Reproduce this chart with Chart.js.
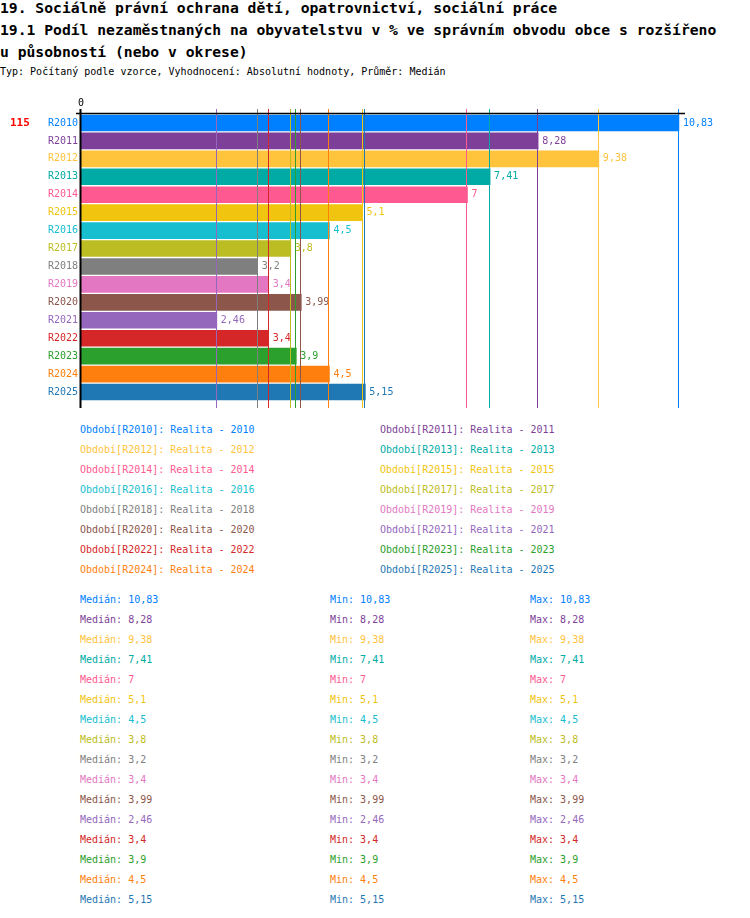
<!DOCTYPE html>
<html>
<head>
<meta charset="utf-8">
<script src="https://cdn.jsdelivr.net/npm/chart.js@4.4.1/dist/chart.umd.min.js"></script>
<style>
  body { margin: 0; background: #fff; font-family: "DejaVu Sans Mono", monospace; }
  #page { position: relative; width: 750px; height: 918px; overflow: hidden; }
  .t { position: absolute; left: 0; white-space: pre; font-weight: bold; font-size: 14.7px; line-height: 22px; color: #000; }
  .sub { position: absolute; left: 0; top: 66px; white-space: pre; font-size: 10px; line-height: 12px; color: #000; }
  #chartBox { position: absolute; left: 0; top: 90px; width: 750px; height: 320px; }
  .row { position: absolute; white-space: pre; font-size: 10px; line-height: 12px; }
</style>
</head>
<body>
<div id="page">
  <div class="t" style="top:-3px">19. Sociálně právní ochrana dětí, opatrovnictví, sociální práce</div>
  <div class="t" style="top:19px">19.1 Podíl nezaměstnaných na obyvatelstvu v % ve správním obvodu obce s rozšířeno</div>
  <div class="t" style="top:41px">u působností (nebo v okrese)</div>
  <div class="sub">Typ: Počítaný podle vzorce, Vyhodnocení: Absolutní hodnoty, Průměr: Medián</div>
  <div id="chartBox"><canvas id="chart" width="750" height="320"></canvas></div>
  <div id="legend"></div>
  <div id="stats"></div>
</div>
<script>
// data
const categories = ['R2010', 'R2011', 'R2012', 'R2013', 'R2014', 'R2015', 'R2016', 'R2017',
                    'R2018', 'R2019', 'R2020', 'R2021', 'R2022', 'R2023', 'R2024', 'R2025'];
const years = ['2010', '2011', '2012', '2013', '2014', '2015', '2016', '2017',
               '2018', '2019', '2020', '2021', '2022', '2023', '2024', '2025'];
const values = [10.83, 8.28, 9.38, 7.41, 7, 5.1, 4.5, 3.8, 3.2, 3.4, 3.99, 2.46, 3.4, 3.9, 4.5, 5.15];
const medians = [10.83, 8.28, 9.38, 7.41, 7, 5.1, 4.5, 3.8, 3.2, 3.4, 3.99, 2.46, 3.4, 3.9, 4.5, 5.15];
const mins = [10.83, 8.28, 9.38, 7.41, 7, 5.1, 4.5, 3.8, 3.2, 3.4, 3.99, 2.46, 3.4, 3.9, 4.5, 5.15];
const maxs = [10.83, 8.28, 9.38, 7.41, 7, 5.1, 4.5, 3.8, 3.2, 3.4, 3.99, 2.46, 3.4, 3.9, 4.5, 5.15];
const xTicks = [0];
const regionCode = '115';

const colors = ['#0080ff', '#7e3f98', '#ffc33c', '#00aba6', '#ff5991', '#f1c40f', '#17becf', '#bcbd22',
                '#7f7f7f', '#e377c2', '#8c564b', '#9467bd', '#d62728', '#2ca02c', '#ff7f0e', '#1f77b4'];

const FONT = '"DejaVu Sans Mono", monospace';
const fmt = v => String(v).replace('.', ',');

// legend (two columns) and stats rows
const legend = document.getElementById('legend');
categories.forEach((c, i) => {
  const d = document.createElement('div');
  d.className = 'row';
  d.style.left = (i % 2 ? 380 : 80) + 'px';
  d.style.top = (424 + 20 * Math.floor(i / 2)) + 'px';
  d.style.color = colors[i];
  d.textContent = 'Období[' + c + ']: Realita - ' + years[i];
  legend.appendChild(d);
});

const stats = document.getElementById('stats');
categories.forEach((c, i) => {
  [['Medián: ', medians, 80], ['Min: ', mins, 330], ['Max: ', maxs, 530]].forEach(([lab, arr, left]) => {
    const d = document.createElement('div');
    d.className = 'row';
    d.style.left = left + 'px';
    d.style.top = (594 + 20 * i) + 'px';
    d.style.color = colors[i];
    d.textContent = lab + fmt(arr[i]);
    stats.appendChild(d);
  });
});

// value labels, median lines, axis lines
const marks = {
  id: 'marks',
  afterDatasetsDraw(chart) {
    const { ctx, chartArea: a, scales: { x, y } } = chart;
    ctx.save();
    ctx.font = '10px ' + FONT;
    ctx.textBaseline = 'middle';
    ctx.textAlign = 'left';
    values.forEach((v, i) => {
      ctx.fillStyle = colors[i];
      ctx.fillText(fmt(v), x.getPixelForValue(v) + 4, y.getPixelForValue(i));
    });

    ctx.lineWidth = 1;
    medians.forEach((v, i) => {
      const px = Math.round(x.getPixelForValue(v)) - 0.5;
      ctx.strokeStyle = colors[i];
      ctx.beginPath();
      ctx.moveTo(px, a.top - 5);
      ctx.lineTo(px, a.bottom + 7);
      ctx.stroke();
    });

    ctx.strokeStyle = '#000';
    ctx.lineWidth = 1.5;
    ctx.beginPath();
    ctx.moveTo(a.left - 5, a.top - 0.5);
    ctx.lineTo(a.right, a.top - 0.5);
    ctx.stroke();
    ctx.lineWidth = 2;
    ctx.beginPath();
    ctx.moveTo(a.left - 0.5, a.top - 5);
    ctx.lineTo(a.left - 0.5, a.bottom + 7);
    ctx.stroke();

    ctx.font = 'bold 11px ' + FONT;
    ctx.fillStyle = '#ff0000';
    ctx.fillText(regionCode, 10, y.getPixelForValue(0));
    ctx.restore();
  }
};

new Chart(document.getElementById('chart'), {
  type: 'bar',
  data: {
    labels: categories,
    datasets: [{
      data: values,
      backgroundColor: colors,
      borderWidth: 0,
      barThickness: 16,
      categoryPercentage: 1
    }]
  },
  options: {
    indexAxis: 'y',
    responsive: false,
    animation: false,
    layout: { padding: { top: 0, right: 65, bottom: 9, left: 0 } },
    plugins: { legend: { display: false }, tooltip: { enabled: false } },
    scales: {
      x: {
        position: 'top',
        min: 0,
        max: 10.94,
        afterFit: s => { s.height = 24; },
        afterBuildTicks: s => { s.ticks = xTicks.map(v => ({ value: v })); },
        ticks: { font: { family: FONT, size: 10 }, color: '#000', padding: 5, maxRotation: 0 },
        grid: { display: false, drawTicks: false },
        border: { display: false }
      },
      y: {
        afterFit: s => { s.width = 81; },
        ticks: { font: { family: FONT, size: 10 }, color: c => colors[c.index], padding: 3 },
        grid: { display: false, drawTicks: false },
        border: { display: false }
      }
    }
  },
  plugins: [marks]
});
</script>
</body>
</html>
